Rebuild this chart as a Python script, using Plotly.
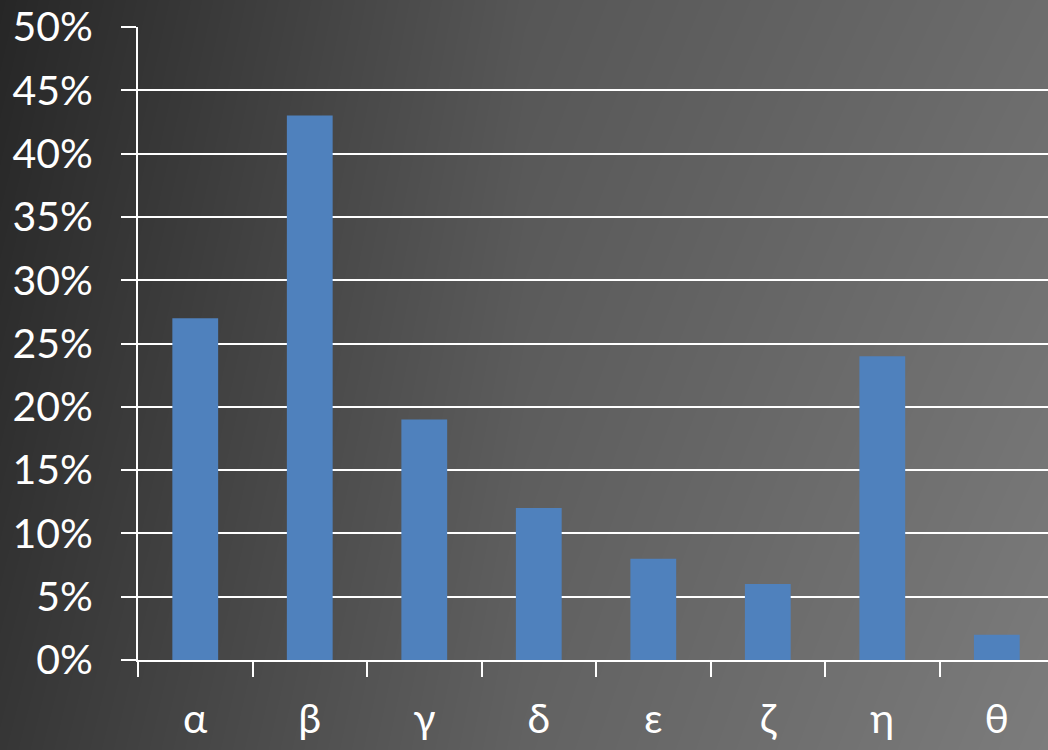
import plotly.graph_objects as go

categories = ["α", "β", "γ", "δ", "ε", "ζ", "η", "θ"]
values = [0.27, 0.43, 0.19, 0.12, 0.08, 0.06, 0.24, 0.02]

# background gradient (gray levels)
bg_x = [0, 0.5, 1]
bg_y = [0, 1]
bg_gray = [[54, 98, 124],   # bottom row
           [38, 86, 108]]   # top row

FONT = "Lato"
FS = 41

fig = go.Figure()
fig.add_trace(go.Heatmap(
    x=bg_x, y=bg_y, z=bg_gray, zsmooth="best",
    colorscale=[[0, "rgb(0,0,0)"], [1, "rgb(255,255,255)"]],
    zmin=0, zmax=255, showscale=False, hoverinfo="skip",
    xaxis="x", yaxis="y",
))
fig.add_trace(go.Bar(
    x=categories, y=values, width=0.4,
    marker=dict(color="#4F81BD", line=dict(width=0)),
    xaxis="x2", yaxis="y2",
))

fig.update_layout(
    width=1048, height=750,
    margin=dict(l=0, r=0, t=0, b=0, autoexpand=False),
    paper_bgcolor="#2a2a2a",
    plot_bgcolor="rgba(0,0,0,0)",
    showlegend=False,
    font=dict(family=FONT, color="white"),
    xaxis=dict(domain=[0, 1], range=[0, 1], visible=False, fixedrange=True),
    yaxis=dict(domain=[0, 1], range=[0, 1], visible=False, fixedrange=True),
    xaxis2=dict(
        domain=[138 / 1048, 1], anchor="y2", type="category",
        range=[-0.5, 7.447], automargin=False,
        showline=True, linecolor="white", linewidth=2,
        ticks="outside", tickson="boundaries", ticklen=15, tickwidth=2,
        tickcolor="white", showgrid=False,
        tickfont=dict(size=FS, color="white", family=FONT),
        ticklabelstandoff=22,
    ),
    yaxis2=dict(
        domain=[(750 - 660) / 750, (750 - 27) / 750], anchor="x2",
        range=[0, 0.5], dtick=0.05, tick0=0, tickformat=".0%",
        automargin=False,
        showline=True, linecolor="white", linewidth=2,
        ticks="outside", ticklen=15, tickwidth=2, tickcolor="white",
        showgrid=True, gridcolor="white", gridwidth=2,
        zeroline=False,
        tickfont=dict(size=FS, color="white", family=FONT),
        ticklabelstandoff=20,
    ),
)

fig.write_html("out.html", config={"displayModeBar": False},
               post_script="document.body.style.margin='0px';")
